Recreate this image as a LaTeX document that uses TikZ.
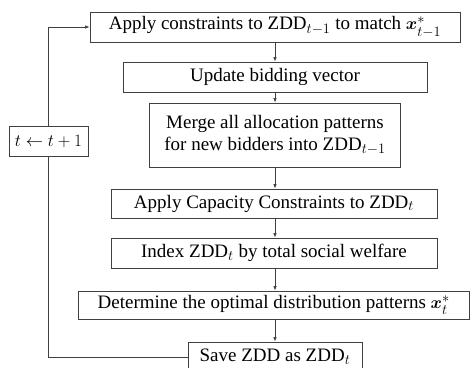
\documentclass[tikz,border=0pt]{standalone}
\usepackage{amsmath,amssymb}
\usepackage{fontspec}
\setmainfont{Liberation Serif}
\usepackage{tikz}
\usetikzlibrary{arrows.meta,calc}

\begin{document}
\begin{tikzpicture}
[x=1pt,y=-1pt,line width=0.8pt,
 box/.style={draw=black!75,rectangle,minimum height=30pt,inner sep=2pt,
   font=\fontsize{19}{22}\selectfont,align=center},
 flow/.style={draw=black!75,-{Latex[length=4.5pt,width=3.5pt]}}]
\useasboundingbox (0,0) rectangle (470,367);
\draw (275,27) node[box,minimum width=370pt] (apply)
  {Apply constraints to $\mathrm{ZDD}_{t-1}$ to match $\boldsymbol{x}^{*}_{t-1}$};
\draw (275,77) node[box,minimum width=304pt] (upd) {Update bidding vector};
\draw (275,135) node[box,minimum width=251pt,minimum height=64pt] (merge)
  {Merge all allocation patterns\\for new bidders into $\mathrm{ZDD}_{t-1}$};
\draw (274,203.5) node[box,minimum width=326pt,minimum height=29pt] (cap)
  {Apply Capacity Constraints to $\mathrm{ZDD}_{t}$};
\draw (274,253) node[box,minimum width=326pt] (idx)
  {Index $\mathrm{ZDD}_{t}$ by total social welfare};
\draw (273.75,305) node[box,minimum width=391.5pt,minimum height=28pt] (opt)
  {Determine the optimal distribution patterns $\boldsymbol{x}^{*}_{t}$};
\draw (275,357) node[box,minimum width=174pt] (save) {Save ZDD as $\mathrm{ZDD}_{t}$};
\draw (48.5,141) node[box,minimum width=79pt] (tinc) {$t \leftarrow t+1$};
% main flow
\draw[flow] (apply.south-|275,0) -- (upd.north-|275,0);
\draw[flow] (upd.south-|275,0) -- (merge.north-|275,0);
\draw[flow] (merge.south-|275,0) -- (cap.north-|275,0);
\draw[flow] (cap.south-|275,0) -- (idx.north-|275,0);
\draw[flow] (idx.south-|275,0) -- (opt.north-|275,0);
\draw[flow] (opt.south-|275,0) -- (save.north-|275,0);
% loop back
\draw[draw=black!75] (save.west) -| (tinc.south);
\draw[flow] (tinc.north) |- (apply.west);
\end{tikzpicture}
\end{document}
